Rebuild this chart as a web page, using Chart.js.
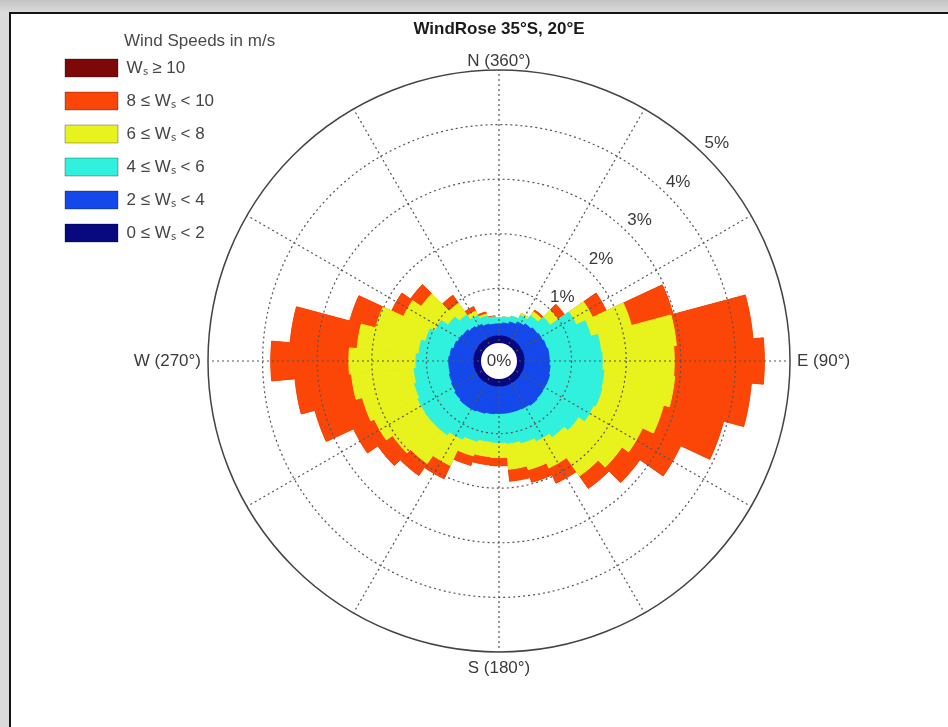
<!DOCTYPE html>
<html>
<head>
<meta charset="utf-8">
<script src="https://cdn.jsdelivr.net/npm/chart.js"></script>
<style>
  html, body { margin: 0; padding: 0; }
  body { width: 948px; height: 727px; overflow: hidden; position: relative;
         background: linear-gradient(#c4c4c4, #dadada 12px, #dadada); }
  #frame { position: absolute; left: 9px; top: 12px; width: 960px; height: 740px;
           border-left: 2px solid #151515; border-top: 2px solid #151515; background: #ffffff; }
  #c { position: absolute; left: 0; top: 0; }
</style>
</head>
<body>
<div id="frame"></div>
<canvas id="c" width="948" height="727"></canvas>
<script>
// ---- data (percent of time per direction and speed class) ----
const directions = [0,10,20,30,40,50,60,70,80,90,100,110,120,130,140,150,160,170,
                    180,190,200,210,220,230,240,250,260,270,280,290,300,310,320,330,340,350];

const ws0_2 = [0.13,0.13,0.13,0.13,0.13,0.13,0.13,0.13,0.13,0.13,0.13,0.13,0.13,0.13,0.13,0.13,0.13,0.13,
               0.13,0.13,0.13,0.13,0.13,0.13,0.13,0.13,0.13,0.13,0.13,0.13,0.13,0.13,0.13,0.13,0.13,0.13];
const ws2_4 = [0.22,0.24,0.28,0.33,0.37,0.40,0.42,0.44,0.46,0.46,0.48,0.50,0.50,0.51,0.53,0.51,0.50,0.50,
               0.50,0.51,0.53,0.55,0.55,0.53,0.50,0.48,0.46,0.46,0.44,0.40,0.37,0.35,0.31,0.28,0.24,0.22];
const ws4_6 = [0.11,0.11,0.11,0.13,0.18,0.28,0.68,0.84,0.95,0.97,0.99,0.99,0.95,0.81,0.70,0.64,0.59,0.55,
               0.53,0.51,0.53,0.57,0.64,0.66,0.68,0.66,0.64,0.60,0.57,0.53,0.46,0.33,0.26,0.18,0.15,0.13];
const ws6_8 = [0.00,0.00,0.00,0.04,0.09,0.18,0.33,0.77,1.39,1.32,1.30,1.17,0.99,0.97,0.88,0.55,0.51,0.48,
               0.28,0.28,0.28,0.53,0.64,0.73,0.88,0.99,1.15,1.23,1.14,0.95,0.64,0.60,0.26,0.09,0.04,0.00];
const ws8_10 = [0.00,0.00,0.00,0.00,0.04,0.15,0.28,0.79,1.41,1.65,1.41,1.14,0.77,0.40,0.28,0.31,0.24,0.22,
                0.15,0.15,0.18,0.27,0.27,0.33,0.42,0.90,1.04,1.43,1.23,0.49,0.24,0.24,0.18,0.09,0.04,0.02];
const ws10plus = [0,0,0,0,0,0,0,0,0,0,0,0,0,0,0,0,0,0,
                  0,0,0,0,0,0,0,0,0,0,0,0,0,0,0,0,0,0];

const speedLabels = ['0 \u2264 W\u209b < 2', '2 \u2264 W\u209b < 4', '4 \u2264 W\u209b < 6',
                     '6 \u2264 W\u209b < 8', '8 \u2264 W\u209b < 10', 'W\u209b \u2265 10'];
const speedColors = ['#08087f', '#1448ea', '#30f0de', '#e8f21c', '#fb4608', '#7d0808'];

const compassAngles = [0, 90, 180, 270];
const compassLabels = ['N (360\u00b0)', 'E (90\u00b0)', 'S (180\u00b0)', 'W (270\u00b0)'];
const ringValues = [1, 2, 3, 4, 5];
const chartTitle = 'WindRose 35\u00b0S, 20\u00b0E';
const legendTitle = 'Wind Speeds in m/s';

// ---- build library structures ----
const FONT = '"Liberation Sans", Arial, Helvetica, sans-serif';
const FS = 17;
const bins = [ws0_2, ws2_4, ws4_6, ws6_8, ws8_10, ws10plus];
const nHalf = directions.length * 2;               // each direction sector drawn as two 5deg halves
const dirOf = j => Math.floor((j + 1) / 2) % directions.length;
const cumulative = bins.map((b, i) =>
  directions.map((d, k) => bins.slice(0, i + 1).reduce((s, bb) => s + bb[k], 0)));

const labels = Array.from({length: nHalf}, (_, j) => {
  const idx = compassAngles.indexOf(j * 360 / nHalf);
  return idx >= 0 ? compassLabels[idx] : '';
});

const datasets = bins.map((b, i) => ({
  label: speedLabels[i],
  data: Array.from({length: nHalf}, (_, j) => +cumulative[i][dirOf(j)].toFixed(4)),
  backgroundColor: speedColors[i],
  borderColor: speedColors[i],
  borderWidth: i === bins.length - 1 ? 0 : 1
}));

const boxW = 53, legPad = 15, boxH = 18, legSpacer = 44;

const roseText = {
  id: 'roseText',
  afterDraw(chart) {
    const ctx = chart.ctx, s = chart.scales.r;
    const cx = s.xCenter, cy = s.yCenter;
    ctx.save();
    // centre hole
    ctx.beginPath();
    ctx.arc(cx, cy, s.getDistanceFromCenterForValue(0), 0, Math.PI * 2);
    ctx.fillStyle = '#ffffff';
    ctx.fill();
    ctx.font = FS + 'px ' + FONT;
    ctx.fillStyle = '#3a3a3a';
    ctx.textAlign = 'center';
    ctx.textBaseline = 'middle';
    ctx.fillText('0%', cx, cy);
    // ring labels along 45deg
    const a = Math.PI / 4;
    ringValues.forEach(v => {
      const d = s.getDistanceFromCenterForValue(v) + 17;
      ctx.fillText(v + '%', cx + d * Math.sin(a), cy - d * Math.cos(a));
    });
    // legend heading
    const lg = chart.legend;
    ctx.textAlign = 'left';
    ctx.fillStyle = '#4a4a4a';
    ctx.fillText(legendTitle, lg.left + legPad + boxW + 6, lg.top + legSpacer + legPad + boxH / 2 - 27);
    ctx.restore();
  }
};

new Chart(document.getElementById('c'), {
  type: 'polarArea',
  data: { labels, datasets },
  plugins: [roseText],
  options: {
    responsive: false,
    animation: false,
    devicePixelRatio: 1,
    events: [],
    layout: { padding: { top: 10, left: 50, right: 0, bottom: 49 } },
    plugins: {
      title: {
        display: true, text: chartTitle, color: '#1a1a1a',
        font: { family: FONT, size: FS, weight: 'bold', lineHeight: '19px' },
        padding: { top: 10, bottom: 5 }
      },
      legend: {
        position: 'chartArea', align: 'start', onClick: null,
        title: { display: true, text: '', padding: 0, font: { family: FONT, size: FS, lineHeight: legSpacer + 'px' } },
        labels: {
          boxWidth: boxW, boxHeight: boxH, padding: legPad, color: '#454545',
          font: { family: FONT, size: FS },
          generateLabels: (chart) => chart.data.datasets.map((ds, i) => ({
            text: ds.label, fillStyle: ds.backgroundColor, strokeStyle: 'rgba(0,0,0,0.3)',
            lineWidth: 1, hidden: false, datasetIndex: i, fontColor: '#454545'
          })).reverse()
        }
      },
      tooltip: { enabled: false }
    },
    scales: {
      r: {
        type: 'radialLinear',
        min: -0.33, max: 5, startAngle: 0,
        ticks: { display: false, stepSize: 1 },
        grid: {
          z: 1, circular: true,
          color: c => c.tick.value >= 5 ? '#444444' : (c.tick.value > 0 ? '#555555' : 'transparent'),
          lineWidth: c => c.tick.value >= 5 ? 1.5 : (c.tick.value > 0 ? 1.2 : 0)
        },
        border: { dash: c => (c.tick && c.tick.value >= 5) ? [] : [2, 3] },
        angleLines: {
          display: true, color: '#555555', borderDash: [2, 3],
          lineWidth: c => c.index % 6 === 0 ? 1.2 : 0
        },
        pointLabels: {
          display: true, color: '#3a3a3a',
          callback: (label, index) => index === 0 ? ['', label] : label,
          font: c => {
            if (c.index === 0) return { family: FONT, size: FS, lineHeight: '11.5px' };
            if (c.index === nHalf / 2) return { family: FONT, size: FS, lineHeight: '20px' };
            if (labels[c.index] === '') return { family: FONT, size: 1 };
            return { family: FONT, size: FS };
          },
          padding: c => c.index === 0 ? 3 : (c.index === nHalf / 2 ? 6 : 7)
        }
      }
    }
  }
});
</script>
</body>
</html>
